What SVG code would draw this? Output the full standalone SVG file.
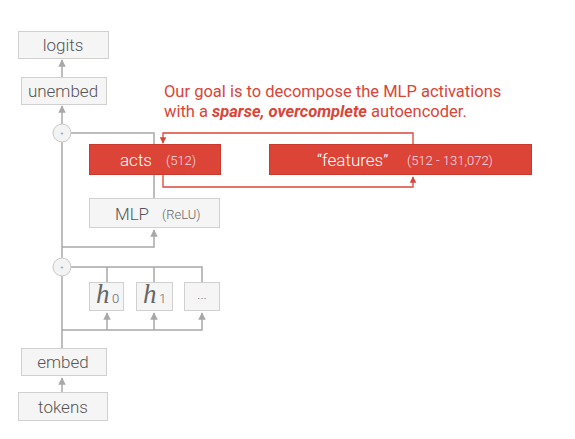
<svg xmlns="http://www.w3.org/2000/svg" width="575" height="439" viewBox="0 0 575 439">
<style>
.box{fill:#f5f5f5;stroke:#d0d0d0;stroke-width:1}
.red{fill:#db4437;stroke:#c9392d;stroke-width:1}
.lbl{font-family:Roboto,"Liberation Sans",sans-serif;font-weight:300;font-size:17px;fill:#555;text-anchor:middle}
.sm{font-family:Roboto,"Liberation Sans",sans-serif;font-weight:300;font-size:13px;fill:#666}
.w{font-family:Roboto,"Liberation Sans",sans-serif;font-weight:300;font-size:17px;fill:#fff}
.ws{font-family:Roboto,"Liberation Sans",sans-serif;font-weight:300;font-size:13px;fill:#fde}
.g{fill:none;stroke:#a8a8a8;stroke-width:1.5}
.r{fill:none;stroke:#db4437;stroke-width:1.3}
.note{font-family:Roboto,"Liberation Sans",sans-serif;font-size:16.5px;fill:#db4437}
.h{font-family:"Liberation Serif","DejaVu Serif",serif;font-style:italic;font-size:27px;fill:#666}
</style>
<defs>
<marker id="ag" viewBox="0 0 10 10" refX="9" refY="5" markerWidth="5" markerHeight="5" orient="auto"><path d="M0,0 L10,5 L0,10 z" fill="#a8a8a8"/></marker>
<marker id="ar" viewBox="0 0 10 10" refX="9" refY="5" markerWidth="5" markerHeight="5" orient="auto"><path d="M0,0 L10,5 L0,10 z" fill="#db4437"/></marker>
</defs>
<rect width="575" height="439" fill="#fff"/>
<g id="connectors">
<path class="g" d="M62,348 V276"/>
<path class="g" d="M62,258 V142"/>
<path class="g" d="M62,124 V106" marker-end="url(#ag)"/>
<path class="g" d="M62,77 V60" marker-end="url(#ag)"/>
<path class="g" d="M62,392 V378" marker-end="url(#ag)"/>
<path class="g" d="M71,133 H154 V198"/>
<path class="g" d="M62,247 H154 V230" marker-end="url(#ag)"/>
<path class="g" d="M71,267 H202 V282 M107,267 V282 M154,267 V282"/>
<path class="g" d="M62,330 H202 V313" marker-end="url(#ag)"/>
<path class="g" d="M107,330 V313" marker-end="url(#ag)"/>
<path class="g" d="M154,330 V313" marker-end="url(#ag)"/>
<path class="r" d="M413,144 V133 H163 V143" marker-end="url(#ar)"/>
<path class="r" d="M163,175 V187 H413 V177" marker-end="url(#ar)"/>
</g>
<g id="sum1"><circle cx="62" cy="133" r="9" fill="#f3f3f3" stroke="#c8c8c8"/><text x="62" y="135" font-family="Roboto,sans-serif" font-size="5" fill="#888" text-anchor="middle">+</text></g>
<g id="sum2"><circle cx="62" cy="267" r="9" fill="#f3f3f3" stroke="#c8c8c8"/><text x="62" y="269" font-family="Roboto,sans-serif" font-size="5" fill="#888" text-anchor="middle">+</text></g>
<g id="logits"><rect class="box" x="18.5" y="31.5" width="90" height="27"/><text class="lbl" x="63" y="50.5">logits</text></g>
<g id="unembed"><rect class="box" x="21.5" y="77.5" width="85" height="27"/><text class="lbl" x="63" y="96.5">unembed</text></g>
<g id="acts"><rect class="red" x="89.5" y="144.5" width="131" height="30"/><text class="w" x="120" y="165.5">acts</text><text class="ws" x="166" y="165">(512)</text></g>
<g id="features"><rect class="red" x="269.5" y="144.5" width="262" height="30"/><text class="w" x="317" y="165.5">“features”</text><text class="ws" x="407" y="165">(512 - 131,072)</text></g>
<g id="mlp"><rect class="box" x="89.5" y="198.5" width="130" height="29"/><text class="lbl" x="132" y="219.5">MLP</text><text class="sm" x="162" y="218.5">(ReLU)</text></g>
<g id="h0"><rect class="box" x="89.5" y="282.5" width="34" height="28"/><text class="h" x="96" y="303">h</text><text class="sm" x="112" y="303" font-size="9">0</text></g>
<g id="h1"><rect class="box" x="136.5" y="282.5" width="36" height="28"/><text class="h" x="143" y="303">h</text><text class="sm" x="159" y="303" font-size="9">1</text></g>
<g id="hdots"><rect class="box" x="184.5" y="282.5" width="35" height="28"/><text class="sm" x="202" y="299" font-size="8" text-anchor="middle" fill="#999">...</text></g>
<g id="embed"><rect class="box" x="21.5" y="348.5" width="85" height="27"/><text class="lbl" x="63" y="367.5">embed</text></g>
<g id="tokens"><rect class="box" x="18.5" y="392.5" width="89" height="28"/><text class="lbl" x="63" y="412.5">tokens</text></g>
<g id="note">
<text class="note" x="164" y="97">Our goal is to decompose the MLP activations</text>
<text class="note" x="164" y="117">with a <tspan font-weight="bold" font-style="italic">sparse, overcomplete</tspan> autoencoder.</text>
</g>
</svg>
